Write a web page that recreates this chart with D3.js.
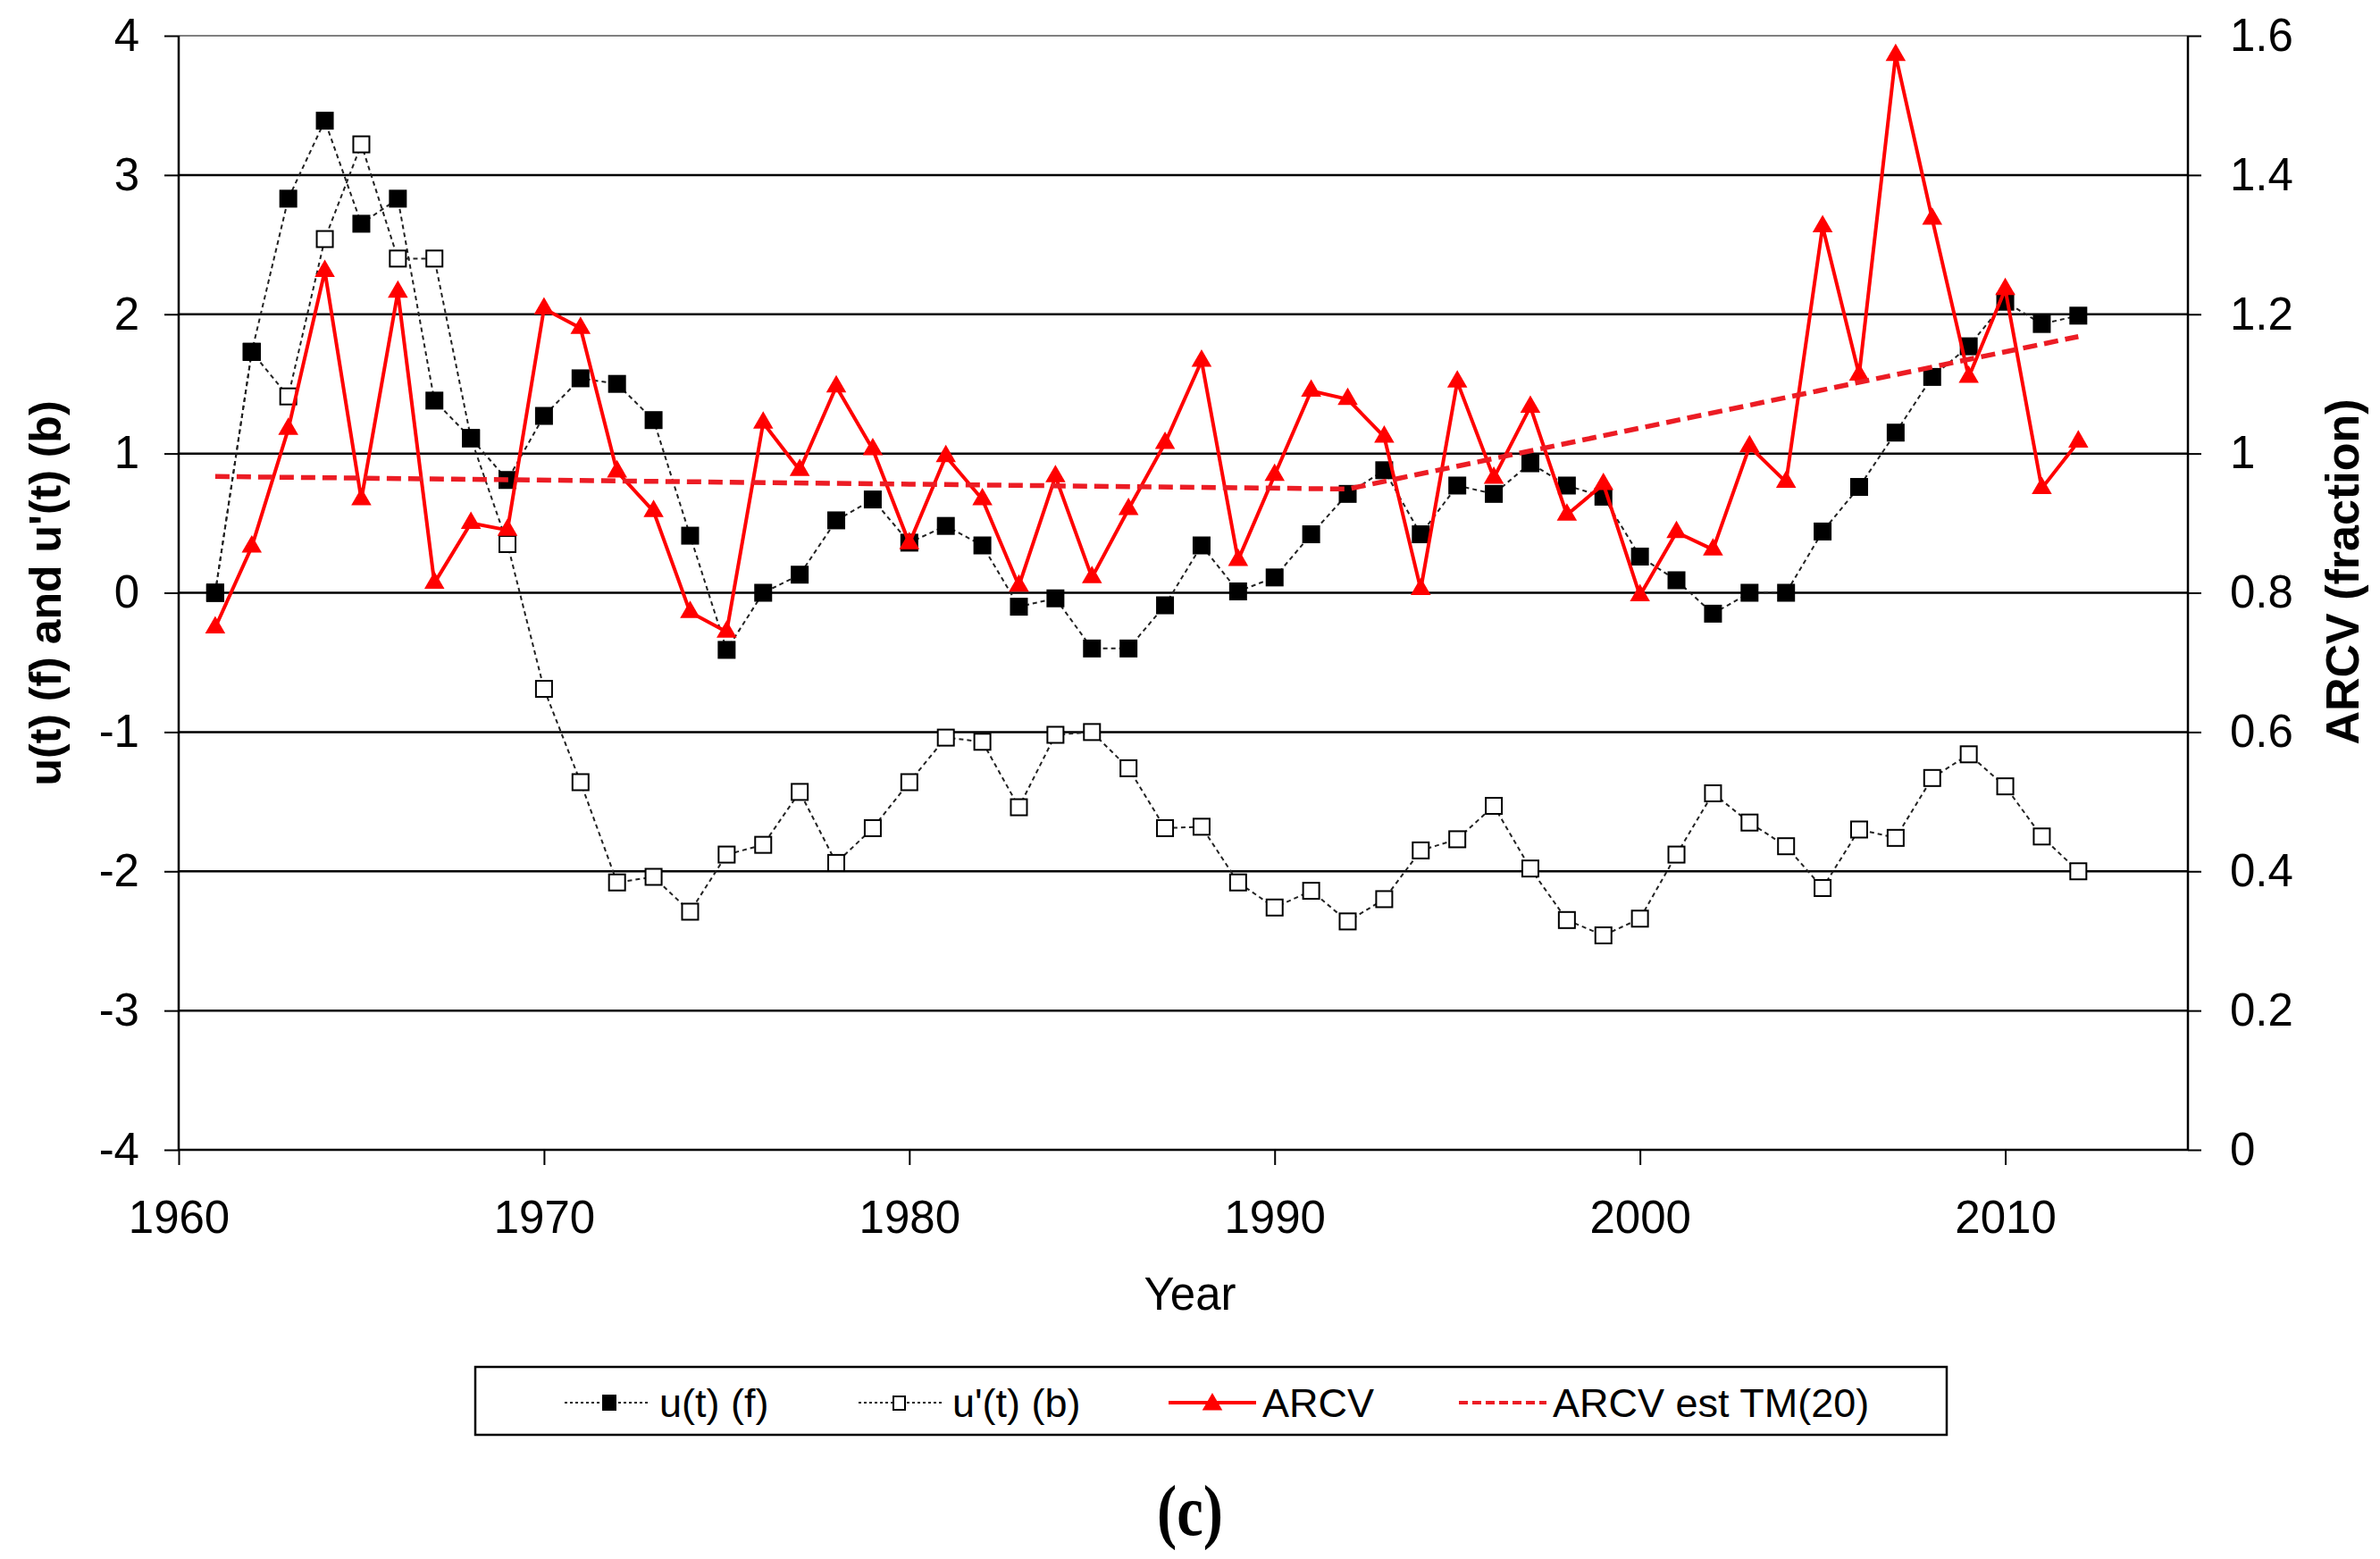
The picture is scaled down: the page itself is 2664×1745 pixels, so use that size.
<!DOCTYPE html>
<html>
<head>
<meta charset="utf-8">
<script src="https://cdn.jsdelivr.net/npm/d3@7"></script>
<style>
  body { margin: 0; background: #fff; }
  text { font-family: "Liberation Sans", Arial, sans-serif; }
</style>
</head>
<body>
<svg id="chart" width="2664" height="1745"></svg>
<script>
// years 1961..2012
const years = d3.range(1961, 2013);

// u(t) (f) - forward statistic
const uF = [0, 1.73, 2.83, 3.39, 2.65, 2.83, 1.38, 1.11, 0.81, 1.27,
  1.54, 1.50, 1.24, 0.41, -0.41, 0.0, 0.13, 0.52, 0.67, 0.36,
  0.48, 0.34, -0.10, -0.04, -0.40, -0.40, -0.09, 0.34, 0.01, 0.11,
  0.42, 0.71, 0.88, 0.42, 0.77, 0.71, 0.93, 0.77, 0.69, 0.26,
  0.09, -0.15, 0.0, 0.0, 0.44, 0.76, 1.15, 1.55, 1.77, 2.09,
  1.93, 1.99];

// u'(t) (b) - backward statistic
const uB = [0, 1.73, 1.41, 2.54, 3.22, 2.40, 2.40, 1.11, 0.35, -0.69,
  -1.36, -2.08, -2.04, -2.29, -1.88, -1.81, -1.43, -1.94, -1.69, -1.36,
  -1.04, -1.07, -1.54, -1.02, -1.00, -1.26, -1.69, -1.68, -2.08, -2.26,
  -2.14, -2.36, -2.20, -1.85, -1.77, -1.53, -1.98, -2.35, -2.46, -2.34,
  -1.88, -1.44, -1.65, -1.82, -2.12, -1.70, -1.76, -1.33, -1.16, -1.39,
  -1.75, -2.00];

// ARCV (fraction), right axis
const arcv = [0.750, 0.866, 1.035, 1.262, 0.934, 1.232, 0.814, 0.900, 0.890, 1.208,
  1.180, 0.974, 0.917, 0.772, 0.744, 1.044, 0.976, 1.096, 1.006, 0.871,
  0.996, 0.934, 0.810, 0.967, 0.822, 0.920, 1.015, 1.133, 0.847, 0.969,
  1.090, 1.078, 1.024, 0.805, 1.103, 0.965, 1.067, 0.912, 0.956, 0.796,
  0.887, 0.862, 1.010, 0.959, 1.326, 1.113, 1.572, 1.337, 1.110, 1.236,
  0.950, 1.017];

// ARCV est TM(20) trend
const trendYears = [1961, 1992, 2012];
const trendVals = [0.967, 0.949, 1.168];

const leftTicks = [-4, -3, -2, -1, 0, 1, 2, 3, 4];
const rightTicks = [0, 0.2, 0.4, 0.6, 0.8, 1, 1.2, 1.4, 1.6];
const xTicks = [1960, 1970, 1980, 1990, 2000, 2010];

const legendItems = ["u(t) (f)", "u'(t) (b)", "ARCV", "ARCV est TM(20)"];

const svg = d3.select('#chart');
const L = 200, R = 2449, T = 40, B = 1287;

const x = d3.scaleLinear().domain([1960, 2015]).range([L, R]);
const yL = d3.scaleLinear().domain([-4, 4]).range([B, T]);
const yR = d3.scaleLinear().domain([0, 1.6]).range([B, T]);

// gridlines
svg.append('g')
  .selectAll('line')
  .data(leftTicks.filter(d => d > -4 && d < 4))
  .enter()
  .append('line')
  .attr('x1', L).attr('x2', R)
  .attr('y1', d => yL(d)).attr('y2', d => yL(d))
  .attr('stroke', '#000').attr('stroke-width', 2.5);

// top border
svg.append('line')
  .attr('x1', L).attr('x2', R).attr('y1', T).attr('y2', T)
  .attr('stroke', '#808080').attr('stroke-width', 2);

// left axis
const axL = svg.append('g')
  .attr('transform', 'translate(' + L + ',0)')
  .call(d3.axisLeft(yL).tickValues(leftTicks).tickSize(16).tickPadding(28)
    .tickFormat(d => d));
// right axis
const axR = svg.append('g')
  .attr('transform', 'translate(' + R + ',0)')
  .call(d3.axisRight(yR).tickValues(rightTicks).tickSize(15).tickPadding(32)
    .tickFormat(d => d));
// bottom axis
const axB = svg.append('g')
  .attr('transform', 'translate(0,' + B + ')')
  .call(d3.axisBottom(x).tickValues(xTicks).tickSize(17).tickPadding(40)
    .tickFormat(d3.format('d')));

[axL, axR, axB].forEach(function(a) {
  a.select('.domain').attr('stroke', '#000').attr('stroke-width', 2.5);
  a.selectAll('.tick line').attr('stroke', '#000').attr('stroke-width', 2);
  a.selectAll('text').attr('font-size', 51).attr('fill', '#000')
    .style('font-family', '"Liberation Sans", Arial, sans-serif');
});
axB.select('.domain').attr('d', 'M' + L + ',0H' + R);
axL.select('.domain').attr('d', 'M0,' + T + 'V' + B);
axR.select('.domain').attr('d', 'M0,' + T + 'V' + B);

// axis titles
svg.append('text')
  .attr('transform', 'translate(68,664) rotate(-90)')
  .attr('text-anchor', 'middle')
  .attr('font-size', 50).attr('font-weight', 'bold')
  .text("u(t) (f) and u'(t) (b)");

svg.append('text')
  .attr('transform', 'translate(2640,640) rotate(-90)')
  .attr('text-anchor', 'middle')
  .attr('font-size', 52).attr('font-weight', 'bold')
  .text('ARCV (fraction)');

svg.append('text')
  .attr('x', 1332).attr('y', 1466)
  .attr('text-anchor', 'middle')
  .attr('font-size', 51)
  .text('Year');

// series lines
const lineL = d3.line().x((d, i) => x(years[i])).y(d => yL(d));
const lineR = d3.line().x((d, i) => x(years[i])).y(d => yR(d));

svg.append('path').datum(uF)
  .attr('d', lineL).attr('fill', 'none')
  .attr('stroke', '#222').attr('stroke-width', 2).attr('stroke-dasharray', '5,4');

svg.append('path').datum(uB)
  .attr('d', lineL).attr('fill', 'none')
  .attr('stroke', '#222').attr('stroke-width', 2).attr('stroke-dasharray', '5,4');

// markers: filled squares
svg.append('g').selectAll('rect')
  .data(uF).enter().append('rect')
  .attr('x', (d, i) => x(years[i]) - 10)
  .attr('y', d => yL(d) - 10)
  .attr('width', 20).attr('height', 20)
  .attr('fill', '#000');

// markers: open squares
svg.append('g').selectAll('rect')
  .data(uB).enter().append('rect')
  .attr('x', (d, i) => x(years[i]) - 9)
  .attr('y', d => yL(d) - 9)
  .attr('width', 18).attr('height', 18)
  .attr('fill', '#fff').attr('stroke', '#000').attr('stroke-width', 2);

// redraw filled squares where both series coincide
svg.append('g').selectAll('rect')
  .data(years.filter((yr, i) => uF[i] === uB[i]))
  .enter().append('rect')
  .attr('x', yr => x(yr) - 10)
  .attr('y', yr => yL(uF[years.indexOf(yr)]) - 10)
  .attr('width', 20).attr('height', 20)
  .attr('fill', '#000');

// ARCV
svg.append('path').datum(arcv)
  .attr('d', lineR).attr('fill', 'none')
  .attr('stroke', '#ff0000').attr('stroke-width', 4)
  .attr('stroke-linejoin', 'round');

const tri = d3.symbol().type(d3.symbolTriangle).size(220);
svg.append('g').selectAll('path')
  .data(arcv).enter().append('path')
  .attr('d', tri)
  .attr('transform', (d, i) => 'translate(' + x(years[i]) + ',' + yR(d) + ')')
  .attr('fill', '#ff0000');

// trend
svg.append('path').datum(trendVals)
  .attr('d', d3.line().x((d, i) => x(trendYears[i])).y(d => yR(d)))
  .attr('fill', 'none')
  .attr('stroke', '#ec1c24').attr('stroke-width', 5.5)
  .attr('stroke-dasharray', '16,8');

// legend
const lg = svg.append('g');
lg.append('rect')
  .attr('x', 532).attr('y', 1530).attr('width', 1647).attr('height', 76)
  .attr('fill', '#fff').attr('stroke', '#000').attr('stroke-width', 2.5);

const lgX = [632, 961, 1308, 1633];
const lgY = 1570;
legendItems.forEach(function(name, i) {
  const x0 = lgX[i];
  const g = lg.append('g');
  if (i < 2) {
    g.append('line').attr('x1', x0).attr('x2', x0 + 96)
      .attr('y1', lgY).attr('y2', lgY)
      .attr('stroke', '#222').attr('stroke-width', 2).attr('stroke-dasharray', '3,3');
    if (i === 0) {
      g.append('rect').attr('x', x0 + 42).attr('y', lgY - 9)
        .attr('width', 16).attr('height', 18).attr('fill', '#000');
    } else {
      g.append('rect').attr('x', x0 + 39).attr('y', lgY - 7)
        .attr('width', 13).attr('height', 15)
        .attr('fill', '#fff').attr('stroke', '#000').attr('stroke-width', 2);
    }
  } else if (i === 2) {
    g.append('line').attr('x1', x0).attr('x2', x0 + 98)
      .attr('y1', lgY).attr('y2', lgY)
      .attr('stroke', '#ff0000').attr('stroke-width', 4);
    g.append('path').attr('d', tri)
      .attr('transform', 'translate(' + (x0 + 49) + ',' + (lgY + 2) + ')')
      .attr('fill', '#ff0000');
  } else {
    g.append('line').attr('x1', x0).attr('x2', x0 + 98)
      .attr('y1', lgY).attr('y2', lgY)
      .attr('stroke', '#ec1c24').attr('stroke-width', 4).attr('stroke-dasharray', '10,5');
  }
  g.append('text')
    .attr('x', x0 + (i === 0 ? 106 : 105)).attr('y', lgY + 16)
    .attr('font-size', 45)
    .text(name);
});

// panel label
svg.append('text')
  .attr('transform', 'translate(1332,1718) scale(0.9,1.1)')
  .attr('text-anchor', 'middle')
  .attr('font-size', 74).attr('font-weight', 'bold')
  .style('font-family', '"Liberation Serif", "DejaVu Serif", serif')
  .text('(c)');
</script>
</body>
</html>
